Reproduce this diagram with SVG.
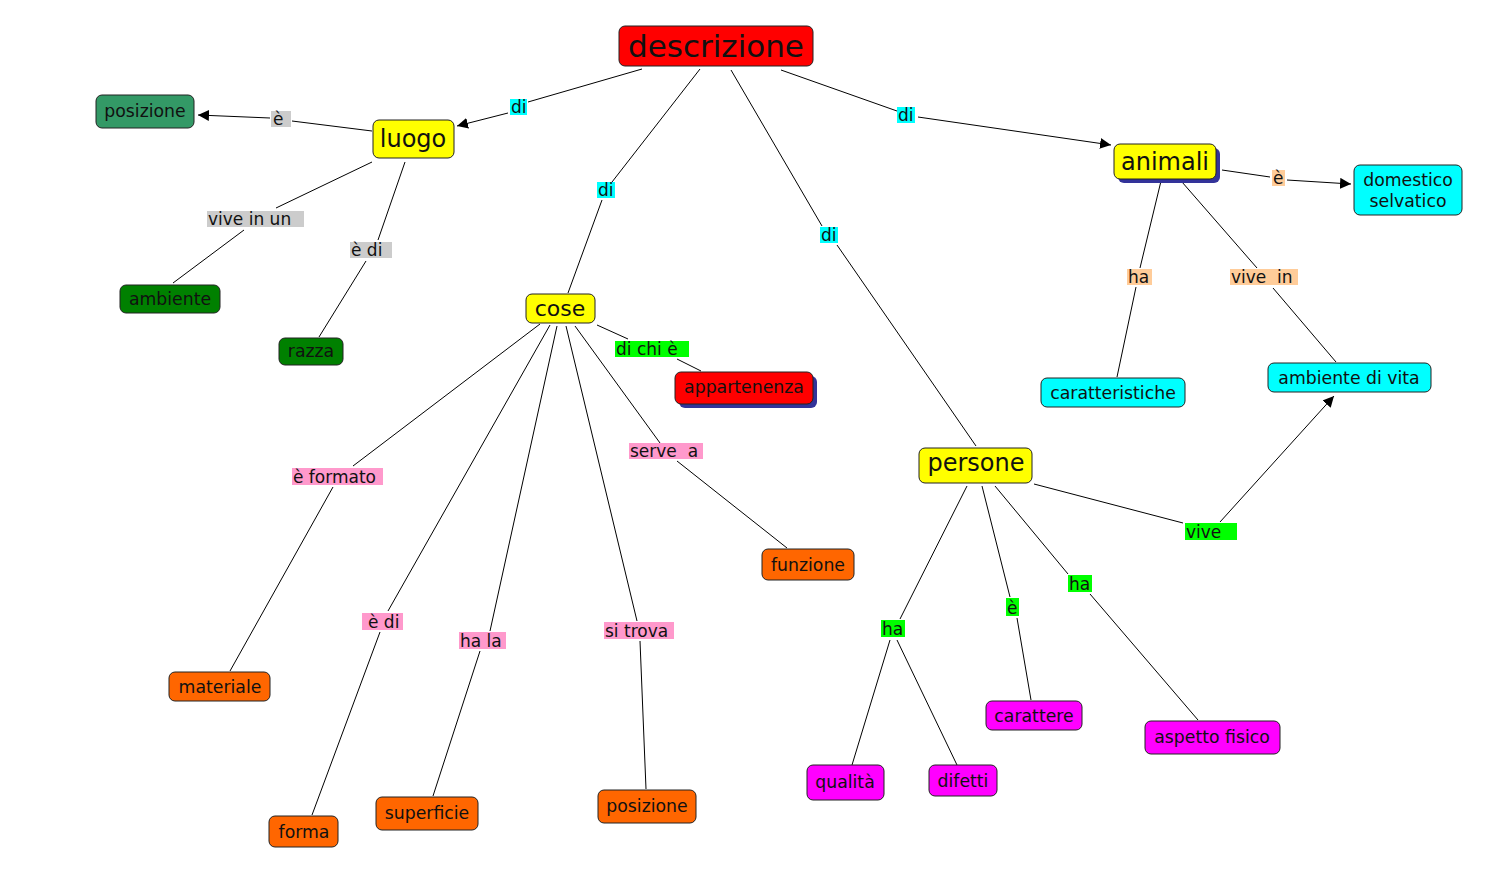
<svg xmlns="http://www.w3.org/2000/svg" width="1507" height="892" viewBox="0 0 1507 892">
<defs>
<marker id="arr" viewBox="0 0 10 10" refX="10" refY="5" markerWidth="11" markerHeight="11" markerUnits="userSpaceOnUse" orient="auto"><path d="M0,0 L10,5 L0,10 z" fill="#000"/></marker>
<style>
.n{stroke:#222;stroke-width:1}
.t{font-family:"DejaVu Sans","Verdana",sans-serif;fill:#111;text-anchor:middle}
.s17{font-size:17.3px}
.l{font-family:"DejaVu Sans","Verdana",sans-serif;font-size:17px;fill:#111}
.c line{stroke:#000;stroke-width:1}
.y{fill:#ffff00}.r{fill:#ff0000}.sg{fill:#339966}.g{fill:#008000}.cy{fill:#00ffff}.o{fill:#ff6600}.m{fill:#ff00ff}.sh{fill:#333399}
.lc{fill:#00ffff}.lg{fill:#cccccc}.lp{fill:#ffcc99}.lgr{fill:#00ff00}.lk{fill:#ff99cc}
</style>
</defs>
<rect width="1507" height="892" fill="#fff"/>
<g class="c" id="connectors">
<line x1="642" y1="69" x2="528" y2="102"/><line x1="508" y1="113" x2="457" y2="126" marker-end="url(#arr)"/>
<line x1="700" y1="69" x2="612" y2="182"/><line x1="602" y1="200" x2="568" y2="293"/>
<line x1="731" y1="70" x2="822" y2="226"/><line x1="837" y1="245" x2="976" y2="446"/>
<line x1="781" y1="70" x2="897" y2="111"/><line x1="918" y1="117" x2="1111" y2="145" marker-end="url(#arr)"/>
<line x1="372" y1="131" x2="292" y2="121"/><line x1="270" y1="118" x2="198" y2="115" marker-end="url(#arr)"/>
<line x1="372" y1="162" x2="276" y2="208"/><line x1="244" y1="230" x2="173" y2="283"/>
<line x1="405" y1="162" x2="378" y2="240"/><line x1="366" y1="261" x2="319" y2="337"/>
<line x1="1222" y1="170" x2="1270" y2="177"/><line x1="1287" y1="180" x2="1351" y2="184" marker-end="url(#arr)"/>
<line x1="1161" y1="181" x2="1140" y2="268"/><line x1="1136" y1="287" x2="1117" y2="377"/>
<line x1="1182" y1="182" x2="1257" y2="268"/><line x1="1273" y1="288" x2="1336" y2="362"/>
<line x1="1034" y1="484" x2="1183" y2="523"/><line x1="1220" y1="522" x2="1334" y2="396" marker-end="url(#arr)"/>
<line x1="597" y1="325" x2="628" y2="339"/><line x1="677" y1="359" x2="701" y2="371"/>
<line x1="575" y1="326" x2="660" y2="443"/><line x1="677" y1="461" x2="787" y2="548"/>
<line x1="540" y1="324" x2="353" y2="466"/><line x1="333" y1="487" x2="230" y2="671"/>
<line x1="550" y1="325" x2="388" y2="611"/><line x1="380" y1="632" x2="312" y2="815"/>
<line x1="557" y1="326" x2="490" y2="631"/><line x1="480" y1="651" x2="433" y2="796"/>
<line x1="566" y1="326" x2="637" y2="621"/><line x1="640" y1="641" x2="646" y2="789"/>
<line x1="967" y1="486" x2="900" y2="619"/><line x1="890" y1="640" x2="852" y2="765"/><line x1="897" y1="640" x2="957" y2="765"/>
<line x1="982" y1="486" x2="1010" y2="597"/><line x1="1017" y1="618" x2="1031" y2="700"/>
<line x1="995" y1="486" x2="1068" y2="574"/><line x1="1090" y1="594" x2="1198" y2="720"/>
</g>
<g id="labels">
<rect class="lc" x="510" y="99" width="17" height="16"/><text class="l" x="511" y="113">di</text>
<rect class="lc" x="597" y="182" width="18" height="16"/><text class="l" x="598" y="196">di</text>
<rect class="lc" x="897" y="107" width="18" height="16"/><text class="l" x="898" y="121">di</text>
<rect class="lc" x="820" y="227" width="18" height="16"/><text class="l" x="821" y="241">di</text>
<rect class="lg" x="271" y="111" width="20" height="16"/><text class="l" x="273" y="125">è</text>
<rect class="lg" x="207" y="211" width="97" height="16"/><text class="l" x="208" y="225">vive in un</text>
<rect class="lg" x="350" y="242" width="42" height="16"/><text class="l" x="351" y="256">è di</text>
<rect class="lp" x="1272" y="170" width="13" height="16"/><text class="l" x="1273" y="184">è</text>
<rect class="lp" x="1127" y="269" width="25" height="16"/><text class="l" x="1128" y="283">ha</text>
<rect class="lp" x="1230" y="269" width="68" height="16"/><text class="l" x="1231" y="283" xml:space="preserve">vive  in</text>
<rect class="lgr" x="615" y="341" width="74" height="16"/><text class="l" x="616" y="355">di chi è</text>
<rect class="lk" x="629" y="443" width="74" height="16"/><text class="l" x="630" y="457" xml:space="preserve">serve  a</text>
<rect class="lk" x="292" y="468" width="91" height="17"/><text class="l" x="293" y="483">è formato</text>
<rect class="lk" x="362" y="613" width="41" height="17"/><text class="l" x="368" y="628">è di</text>
<rect class="lk" x="459" y="632" width="47" height="17"/><text class="l" x="460" y="647">ha la</text>
<rect class="lk" x="604" y="622" width="70" height="17"/><text class="l" x="605" y="637">si trova</text>
<rect class="lgr" x="1185" y="523" width="52" height="17"/><text class="l" x="1186" y="538">vive</text>
<rect class="lgr" x="1068" y="575" width="24" height="17"/><text class="l" x="1069" y="590">ha</text>
<rect class="lgr" x="1006" y="598" width="13" height="18"/><text class="l" x="1007" y="614">è</text>
<rect class="lgr" x="881" y="620" width="24" height="17"/><text class="l" x="882" y="635">ha</text>
</g>
<g id="descrizione"><rect class="n r" x="619" y="26" width="194" height="40" rx="6"/><text class="t" x="716" y="57" font-size="31">descrizione</text></g>
<g id="luogo"><rect class="n y" x="373" y="120" width="81" height="38" rx="6"/><text class="t" x="413" y="147" font-size="24">luogo</text></g>
<g id="posizione1"><rect class="n sg" x="96" y="95" width="98" height="33" rx="6"/><text class="t s17" x="145" y="117">posizione</text></g>
<g id="ambiente"><rect class="n g" x="120" y="285" width="100" height="28" rx="6"/><text class="t s17" x="170" y="305">ambiente</text></g>
<g id="razza"><rect class="n g" x="279" y="338" width="64" height="27" rx="6"/><text class="t s17" x="311" y="357">razza</text></g>
<g id="animali"><rect class="sh" x="1118" y="148" width="102" height="35" rx="6"/><rect class="n y" x="1114" y="144" width="102" height="35" rx="6"/><text class="t" x="1165" y="170" font-size="24">animali</text></g>
<g id="domestico"><rect class="n cy" x="1354" y="165" width="108" height="50" rx="6"/><text class="t s17" x="1408" y="186">domestico</text><text class="t s17" x="1408" y="207">selvatico</text></g>
<g id="caratteristiche"><rect class="n cy" x="1041" y="378" width="144" height="29" rx="6"/><text class="t s17" x="1113" y="399">caratteristiche</text></g>
<g id="ambientedivita"><rect class="n cy" x="1268" y="363" width="163" height="29" rx="6"/><text class="t s17" x="1349" y="384">ambiente di vita</text></g>
<g id="cose"><rect class="n y" x="526" y="294" width="69" height="29" rx="6"/><text class="t" x="560" y="316" font-size="22">cose</text></g>
<g id="appartenenza"><rect class="sh" x="679" y="376" width="138" height="32" rx="6"/><rect class="n r" x="675" y="372" width="138" height="32" rx="6"/><text class="t s17" x="744" y="393">appartenenza</text></g>
<g id="funzione"><rect class="n o" x="762" y="549" width="92" height="31" rx="6"/><text class="t s17" x="808" y="571">funzione</text></g>
<g id="materiale"><rect class="n o" x="169" y="672" width="101" height="29" rx="6"/><text class="t s17" x="220" y="693">materiale</text></g>
<g id="forma"><rect class="n o" x="269" y="816" width="69" height="31" rx="6"/><text class="t s17" x="304" y="838">forma</text></g>
<g id="superficie"><rect class="n o" x="376" y="797" width="102" height="33" rx="6"/><text class="t s17" x="427" y="819">superficie</text></g>
<g id="posizione2"><rect class="n o" x="598" y="790" width="98" height="33" rx="6"/><text class="t s17" x="647" y="812">posizione</text></g>
<g id="persone"><rect class="n y" x="919" y="448" width="113" height="35" rx="6"/><text class="t" x="976" y="471" font-size="24">persone</text></g>
<g id="qualita"><rect class="n m" x="807" y="765" width="77" height="35" rx="6"/><text class="t s17" x="845" y="788">qualità</text></g>
<g id="difetti"><rect class="n m" x="929" y="765" width="68" height="31" rx="6"/><text class="t s17" x="963" y="787">difetti</text></g>
<g id="carattere"><rect class="n m" x="986" y="701" width="96" height="29" rx="6"/><text class="t s17" x="1034" y="722">carattere</text></g>
<g id="aspettofisico"><rect class="n m" x="1145" y="721" width="135" height="33" rx="6"/><text class="t s17" x="1212" y="743">aspetto fisico</text></g>
</svg>
